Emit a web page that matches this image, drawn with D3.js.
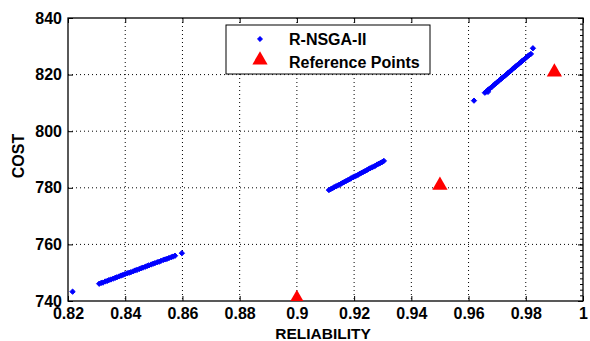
<!DOCTYPE html>
<html>
<head>
<meta charset="utf-8">
<script src="https://cdn.jsdelivr.net/npm/d3@7"></script>
<style>
  body { margin: 0; background: #fff; }
  svg text { font-family: Arial, "Liberation Sans", sans-serif; }
</style>
</head>
<body>
<div id="chart"></div>
<script>
// R-NSGA-II solutions [reliability, cost]
const frontLow = [
  [0.8216, 743.3],
  [0.8309, 746.1], [0.8316, 746.4], [0.8322, 746.5], [0.8330, 746.9], [0.8337, 747.1],
  [0.8343, 747.4], [0.8350, 747.6], [0.8358, 747.9], [0.8365, 748.2], [0.8371, 748.4],
  [0.8379, 748.7], [0.8386, 749.0], [0.8392, 749.2], [0.8399, 749.5], [0.8407, 749.8],
  [0.8414, 750.0], [0.8420, 750.2], [0.8428, 750.5], [0.8435, 750.8], [0.8441, 751.0],
  [0.8449, 751.3], [0.8456, 751.6], [0.8462, 751.8], [0.8470, 752.1], [0.8477, 752.4],
  [0.8483, 752.6], [0.8491, 752.9], [0.8498, 753.2], [0.8504, 753.4], [0.8512, 753.7],
  [0.8519, 753.9], [0.8525, 754.2], [0.8533, 754.5], [0.8540, 754.7], [0.8546, 754.9],
  [0.8553, 755.2], [0.8561, 755.5], [0.8567, 755.7], [0.8574, 756.0],
  [0.8598, 756.9]
];
const frontMid = [
  [0.9112, 779.2], [0.9118, 779.5], [0.9124, 779.8], [0.9130, 780.2], [0.9136, 780.5],
  [0.9142, 780.8], [0.9148, 781.1], [0.9154, 781.4], [0.9160, 781.8], [0.9166, 782.1],
  [0.9172, 782.4], [0.9178, 782.7], [0.9184, 783.0], [0.9190, 783.4], [0.9196, 783.7],
  [0.9202, 784.0], [0.9208, 784.3], [0.9214, 784.6], [0.9220, 785.0], [0.9226, 785.3],
  [0.9232, 785.6], [0.9238, 785.9], [0.9244, 786.2], [0.9250, 786.6], [0.9256, 786.9],
  [0.9262, 787.2], [0.9268, 787.5], [0.9274, 787.8], [0.9280, 788.2], [0.9286, 788.5],
  [0.9292, 788.8], [0.9298, 789.1], [0.9304, 789.5]
];
const frontHigh = [
  [0.9619, 810.8],
  [0.9657, 813.6], [0.9662, 814.0], [0.9668, 813.9], [0.9667, 814.5], [0.9672, 814.9],
  [0.9677, 815.3], [0.9682, 815.7], [0.9687, 816.2], [0.9692, 816.6], [0.9697, 817.0],
  [0.9702, 817.5], [0.9707, 817.9], [0.9712, 818.3], [0.9717, 818.8], [0.9722, 819.2],
  [0.9727, 819.6], [0.9732, 820.0], [0.9737, 820.5], [0.9742, 820.9], [0.9747, 821.3],
  [0.9752, 821.8], [0.9757, 822.2], [0.9762, 822.6], [0.9767, 823.1], [0.9772, 823.5],
  [0.9777, 823.9], [0.9782, 824.3], [0.9787, 824.8], [0.9792, 825.2], [0.9797, 825.6],
  [0.9802, 826.1], [0.9807, 826.5], [0.9812, 826.9], [0.9818, 827.3],
  [0.9825, 829.3]
];
const refPoints = [[0.90, 740], [0.95, 780], [0.99, 820]];

const xTicks = [0.82, 0.84, 0.86, 0.88, 0.9, 0.92, 0.94, 0.96, 0.98, 1];
const yTicks = [740, 760, 780, 800, 820, 840];
const yMinor = d3.range(740, 841, 2);
const legendLabels = ['R-NSGA-II', 'Reference Points'];

const margin = { top: 18, right: 7, bottom: 40, left: 68 };
const width = 590 - margin.left - margin.right;
const height = 341 - margin.top - margin.bottom;

const svg = d3.select('#chart')
  .append('svg')
  .attr('width', 590)
  .attr('height', 341);

svg.append('defs').append('clipPath')
  .attr('id', 'plot-clip')
  .append('rect')
  .attr('width', width)
  .attr('height', height);

const g = svg.append('g')
  .attr('transform', 'translate(' + margin.left + ',' + margin.top + ')');

const x = d3.scaleLinear().domain([0.82, 1]).range([0, width]);
const y = d3.scaleLinear().domain([740, 840]).range([height, 0]);

// dotted grid
g.append('g')
  .selectAll('line')
  .data(xTicks.slice(1, -1))
  .join('line')
  .attr('x1', d => x(d)).attr('x2', d => x(d))
  .attr('y1', 0).attr('y2', height)
  .attr('stroke', '#000')
  .attr('stroke-width', 1)
  .attr('stroke-dasharray', '1,3');

g.append('g')
  .selectAll('line')
  .data(yTicks.slice(1, -1))
  .join('line')
  .attr('x1', 0).attr('x2', width)
  .attr('y1', d => y(d)).attr('y2', d => y(d))
  .attr('stroke', '#000')
  .attr('stroke-width', 1)
  .attr('stroke-dasharray', '1,3');

// axes (ticks inward)
const xAxis = g.append('g')
  .attr('transform', 'translate(0,' + height + ')')
  .call(d3.axisBottom(x).tickValues(xTicks).tickSize(-5).tickPadding(10)
    .tickFormat(d => d3.format('')(+d.toFixed(2))));
const yAxis = g.append('g')
  .call(d3.axisLeft(y).tickValues(yTicks).tickSize(-5).tickPadding(6));
g.append('g')
  .call(d3.axisTop(x).tickValues(xTicks).tickSize(-5).tickFormat(''));
g.append('g')
  .attr('transform', 'translate(' + width + ',0)')
  .call(d3.axisRight(y).tickValues(yTicks).tickSize(-5).tickFormat(''));
g.append('g')
  .attr('transform', 'translate(' + width + ',0)')
  .call(d3.axisRight(y).tickValues(yMinor).tickSize(-3).tickFormat(''));

g.selectAll('.domain').remove();
g.selectAll('.tick line').attr('stroke', '#000');
[xAxis, yAxis].forEach(a => a.selectAll('text')
  .attr('fill', '#000')
  .style('font-size', '16px')
  .style('font-weight', 'bold'));
xAxis.selectAll('text').attr('dy', '0.5em');

g.append('rect')
  .attr('width', width)
  .attr('height', height)
  .attr('fill', 'none')
  .attr('stroke', '#000')
  .attr('stroke-width', 1.3);

// markers
const diamond = d3.symbol().type(d3.symbolDiamond2).size(18);
const triangle = d3.symbol().type(d3.symbolTriangle).size(100);

const marks = g.append('g').attr('clip-path', 'url(#plot-clip)');

marks.append('g')
  .selectAll('path')
  .data(frontLow.concat(frontMid, frontHigh))
  .join('path')
  .attr('transform', d => 'translate(' + x(d[0]) + ',' + y(d[1]) + ')')
  .attr('d', diamond)
  .attr('fill', '#0000ff')
  .attr('stroke', '#0000ff')
  .attr('stroke-width', 1);

marks.append('g')
  .selectAll('path')
  .data(refPoints)
  .join('path')
  .attr('transform', d => 'translate(' + x(d[0]) + ',' + (y(d[1]) - 2.5) + ')')
  .attr('d', triangle)
  .attr('fill', '#ff0000');

// legend
const legend = svg.append('g').attr('transform', 'translate(226,25)');
legend.append('rect')
  .attr('width', 204)
  .attr('height', 49)
  .attr('fill', '#fff')
  .attr('stroke', '#000')
  .attr('stroke-width', 1);
legend.append('path')
  .attr('transform', 'translate(34,14)')
  .attr('d', diamond)
  .attr('fill', '#0000ff')
  .attr('stroke', '#0000ff')
  .attr('stroke-width', 0.6);
legend.append('path')
  .attr('transform', 'translate(34,35)')
  .attr('d', triangle)
  .attr('fill', '#ff0000');
legend.selectAll('text')
  .data(legendLabels)
  .join('text')
  .attr('x', 63)
  .attr('y', (d, i) => 14 + i * 23)
  .attr('dy', '0.36em')
  .style('font-size', '16px')
  .style('font-weight', 'bold')
  .text(d => d);

// axis titles
svg.append('text')
  .attr('x', 323)
  .attr('y', 339)
  .attr('text-anchor', 'middle')
  .style('font-size', '15.5px')
  .style('font-weight', 'bold')
  .text('RELIABILITY');

svg.append('text')
  .attr('transform', 'translate(24,156) rotate(-90)')
  .attr('text-anchor', 'middle')
  .style('font-size', '16px')
  .style('font-weight', 'bold')
  .text('COST');
</script>
</body>
</html>
